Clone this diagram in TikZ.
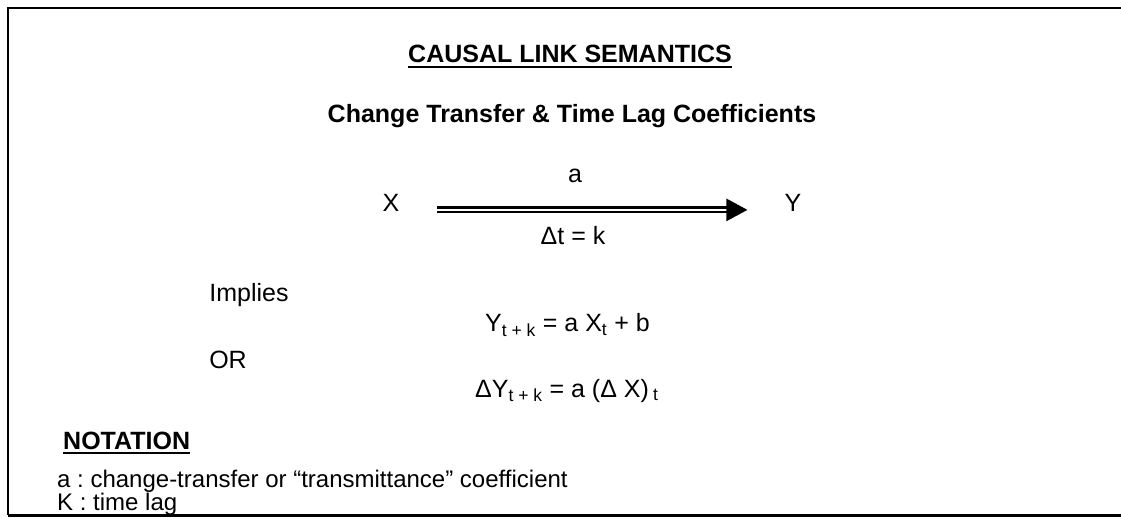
\documentclass[tikz,border=0pt]{standalone}
\usepackage{fontspec}
\setmainfont{Liberation Sans}
\usepackage{tikz}
\usetikzlibrary{arrows.meta}
\definecolor{InkBlack}{RGB}{0,0,0}
\frenchspacing

\begin{document}
\begin{tikzpicture}[x=1pt,y=-1pt,
    txt/.style={inner sep=0pt,anchor=base,text=InkBlack,font=\fontsize{25}{30}\selectfont},
    txtbold/.style={txt,font=\fontsize{25}{30}\selectfont\bfseries},
    notetxt/.style={txt,anchor=base west,font=\fontsize{24}{26}\selectfont},
    linkarrow/.style={InkBlack,double,double distance=2pt,line width=2.5pt,
        -{Triangle[length=21pt,width=22pt]},shorten <=37pt,shorten >=37pt}]
    \useasboundingbox (0,0) rectangle (1121,518);
    % frame, open on the right
    \draw[InkBlack,line width=2pt] (1121,8) -- (8,8) -- (8,515);
    \draw[InkBlack,line width=3pt] (8,515) -- (1121,515);
    % headings
    \node[txtbold] (title) at (570,63) {CAUSAL LINK SEMANTICS};
    \draw[InkBlack,line width=2pt] ([yshift=-4pt]title.base west) -- ([yshift=-4pt]title.base east);
    \node[txtbold] (subtitle) at (572,123) {Change Transfer \& Time Lag Coefficients};
    % causal link X => Y
    \node[txt] (x) at (391,212) {X};
    \node[txt] (y) at (793,212) {Y};
    \draw[linkarrow] ([yshift=-6.5pt]x.east) -- ([yshift=-6.5pt]y.west);
    \node[txt] (coef) at (575,183) {a};
    \node[txt] (lag) at (573,245) {Δt = k};
    % what the link implies
    \node[txt] (implies) at (249,302) {Implies};
    \node[txt] (orword) at (228,368) {OR};
    \node[txt,anchor=base west] (levels) at (485,332)
        {Y\textsubscript{t + k} = a X\textsubscript{t} + b};
    \node[txt,anchor=base west] (changes) at (475,397)
        {ΔY\textsubscript{t + k} = a (Δ X)\,\textsubscript{t}};
    % notation
    \node[txtbold,anchor=base west] (notation) at (63,449) {NOTATION};
    \draw[InkBlack,line width=2pt] ([yshift=-4pt]notation.base west) -- ([yshift=-4pt]notation.base east);
    \node[notetxt] (notea) at (57,487) {a : change-transfer or “transmittance” coefficient};
    \node[notetxt] (notek) at (57,510) {K : time lag};
\end{tikzpicture}
\end{document}
